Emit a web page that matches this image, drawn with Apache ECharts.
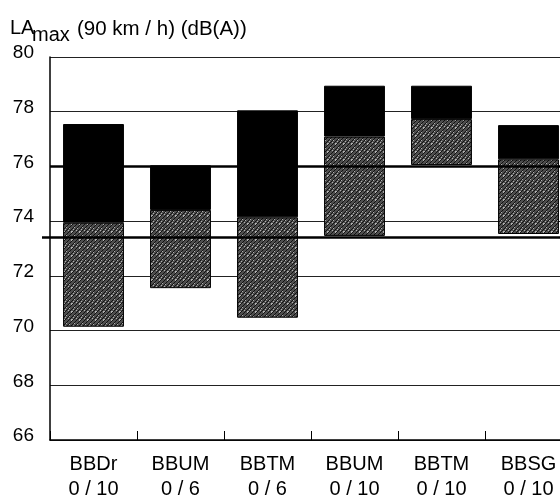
<!DOCTYPE html>
<html>
<head>
<meta charset="utf-8">
<script src="https://cdn.jsdelivr.net/npm/echarts@6/dist/echarts.min.js"></script>
<style>html,body{margin:0;padding:0;background:#fff;}#c{width:560px;height:498px;}</style>
</head>
<body>
<div id="c"></div>
<script>
var names = ['BBDr', 'BBUM', 'BBTM', 'BBUM', 'BBTM', 'BBSG'];
var counts = ['0 / 10', '0 / 6', '0 / 6', '0 / 10', '0 / 10', '0 / 10'];
var lowValues = [70.14, 71.55, 70.47, 73.46, 76.05, 73.53];
var midValues = [73.94, 74.41, 74.14, 77.09, 77.73, 76.26];
var highValues = [77.55, 76.04, 78.05, 78.95, 78.95, 77.51];
var yTicks = [66, 68, 70, 72, 74, 76, 78, 80];
var refLines = [76, 73.4];

var categories = names.map(function (n, i) { return n + '\n' + counts[i]; });
var baseData = lowValues.slice();
var grayData = midValues.map(function (m, i) { return +(m - lowValues[i]).toFixed(3); });
var blackData = highValues.map(function (h, i) { return +(h - midValues[i]).toFixed(3); });

// deterministic hatch texture
var pc = document.createElement('canvas');
pc.width = 8; pc.height = 8;
var px = pc.getContext('2d');
px.fillStyle = '#4e4e4e';
px.fillRect(0, 0, 8, 8);
for (var yy = 0; yy < 8; yy++) {
  for (var xx = 0; xx < 8; xx++) {
    if ((xx + yy) % 4 === 0) { px.fillStyle = '#111'; px.fillRect(xx, yy, 1, 1); }
    else if ((xx * 3 + yy * 5) % 7 === 0) { px.fillStyle = '#b0b0b0'; px.fillRect(xx, yy, 1, 1); }
  }
}

var titleGraphics = [
  { type: 'text', style: { x: 10, y: 28, text: 'LA', font: '20px "Liberation Sans"', fill: '#000', verticalAlign: 'middle' } },
  { type: 'text', style: { x: 32, y: 35.5, text: 'max', font: '20px "Liberation Sans"', fill: '#000', verticalAlign: 'middle' } },
  { type: 'text', style: { x: 77, y: 29, text: '(90 km / h) (dB(A))', font: '20.5px "Liberation Sans"', fill: '#000', verticalAlign: 'middle' } }
];

var chart = echarts.init(document.getElementById('c'), null, { renderer: 'canvas' });
chart.setOption({
  animation: false,
  backgroundColor: '#fff',
  grid: { left: 50, top: 57, width: 522, height: 383, containLabel: false, outerBoundsMode: 'none' },
  xAxis: {
    type: 'category',
    data: categories,
    boundaryGap: true,
    axisLine: { show: true, lineStyle: { color: '#000', width: 1.5 } },
    axisTick: { show: true, inside: true, length: 9, interval: 0, alignWithLabel: false, lineStyle: { color: '#000', width: 1 } },
    axisLabel: { color: '#000', fontSize: 20, fontFamily: 'Liberation Sans', lineHeight: 25, margin: 12, interval: 0 },
    splitLine: { show: false }
  },
  yAxis: {
    type: 'value',
    min: yTicks[0],
    max: yTicks[yTicks.length - 1],
    interval: 2,
    axisLine: { show: true, lineStyle: { color: '#000', width: 1.5 } },
    axisTick: { show: false },
    axisLabel: { color: '#000', fontSize: 19, fontFamily: 'Liberation Sans', margin: 16, verticalAlign: 'bottom', lineHeight: 8 },
    splitLine: { show: true, lineStyle: { color: '#222', width: 1 } }
  },
  series: [
    {
      type: 'bar', stack: 'b', data: baseData, barWidth: '70%',
      itemStyle: { color: 'rgba(0,0,0,0)' }, silent: true,
      markLine: {
        silent: true, symbol: 'none', label: { show: false },
        lineStyle: { color: '#000', width: 2.5, type: 'solid' },
        data: [{ yAxis: refLines[0] }]
      }
    },
    {
      type: 'bar', stack: 'b', data: grayData, barWidth: '70%',
      itemStyle: { color: { image: pc, repeat: 'repeat' }, borderColor: '#000', borderWidth: 1 }
    },
    {
      type: 'bar', stack: 'b', data: blackData, barWidth: '70%',
      itemStyle: { color: '#000', borderColor: '#000', borderWidth: 1 }
    }
  ],
  graphic: titleGraphics
});

var yRef = chart.convertToPixel({ yAxisIndex: 0 }, refLines[1]);
chart.setOption({
  graphic: titleGraphics.concat([
    { type: 'line', z: 100, shape: { x1: 42, y1: yRef, x2: 560, y2: yRef }, style: { stroke: '#000', lineWidth: 2.5 } }
  ])
}, { replaceMerge: ['graphic'] });
</script>
</body>
</html>
